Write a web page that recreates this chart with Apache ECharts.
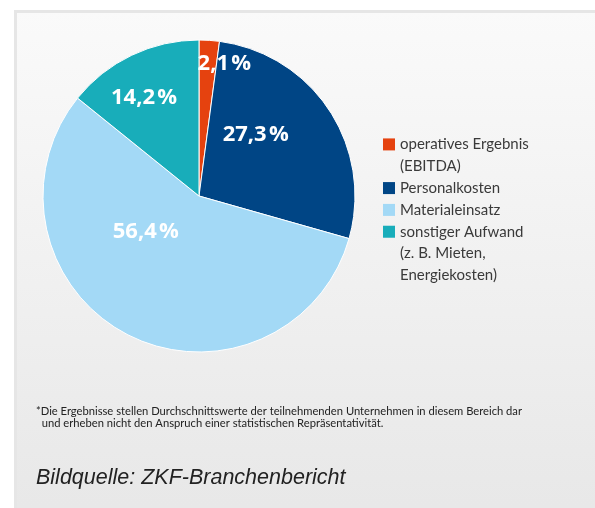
<!DOCTYPE html>
<html>
<head>
<meta charset="utf-8">
<script src="https://cdn.jsdelivr.net/npm/echarts@6/dist/echarts.min.js"></script>
<style>
html,body{margin:0;padding:0;background:#fff;}
#chart{width:595px;height:508px;}
</style>
</head>
<body>
<div id="chart"></div>
<script>
// ---- data ----
const categories = [
  'operatives Ergebnis\n(EBITDA)',
  'Personalkosten',
  'Materialeinsatz',
  'sonstiger Aufwand\n(z. B. Mieten,\nEnergiekosten)'
];
const shares = [2.1, 27.3, 56.4, 14.2];
const sliceColors = ['#e5420f', '#004585', '#a3d9f6', '#18adba'];
const footnote = '*Die Ergebnisse stellen Durchschnittswerte der teilnehmenden Unternehmen in diesem Bereich dar\n  und erheben nicht den Anspruch einer statistischen Repräsentativität.';
const sourceText = 'Bildquelle: ZKF-Branchenbericht';

// ---- layout / style (not data) ----
const LH = 21.83;
const labelShift = [[20, -51], [-11, -17], [-16, -36], [-20, -25]];

const chart = echarts.init(document.getElementById('chart'), null, {renderer: 'canvas'});

const pieData = categories.map((c, i) => ({
  name: c,
  value: shares[i],
  itemStyle: {color: sliceColors[i]}
}));

const rich = {
  t: {color: '#3a3a3a', fontSize: 15, lineHeight: LH, fontFamily: 'Lato, sans-serif', padding: [0, 0, 0, 5]},
  sp: {width: 12, height: 12, lineHeight: LH}
};
sliceColors.forEach((col, i) => {
  rich['sq' + i] = {width: 12, height: 12, lineHeight: LH, backgroundColor: col};
});

const option = {
  backgroundColor: '#ffffff',
  animation: false,
  graphic: [
    {
      type: 'rect', z: -10, silent: true,
      shape: {x: 15.5, y: 11.5, width: 620, height: 520},
      style: {
        fill: new echarts.graphic.LinearGradient(0, 0, 0, 1, [
          {offset: 0, color: '#fafafa'},
          {offset: 1, color: '#e7e7e7'}
        ]),
        stroke: '#e6e6e6', lineWidth: 3
      }
    },
    {
      type: 'text', left: 36, top: 406,
      style: {
        text: footnote, fill: '#222', fontSize: 11.2, lineHeight: 11.7,
        fontFamily: '"Liberation Sans Narrow", "Lato", sans-serif'
      }
    },
    {
      type: 'text', left: 36, top: 467,
      style: {
        text: sourceText, fill: '#222', fontSize: 21.5, fontStyle: 'italic',
        fontFamily: '"Liberation Sans", Arial, sans-serif'
      }
    }
  ],
  legend: {
    orient: 'vertical',
    left: 377, top: 133.5,
    padding: 0,
    itemGap: 0,
    itemWidth: 0.01, itemHeight: 12,
    icon: 'rect',
    itemStyle: {opacity: 0},
    selectedMode: false,
    data: categories,
    formatter: name => {
      const idx = categories.indexOf(name);
      return name.split('\n').map((line, j) =>
        (j === 0 ? '{sq' + idx + '|}' : '{sp|}') + '{t|' + line + '}'
      ).join('\n');
    },
    textStyle: {
      color: '#3a3a3a', fontSize: 15, lineHeight: LH,
      fontFamily: 'Lato, sans-serif',
      rich: rich
    }
  },
  series: [{
    type: 'pie',
    center: [199, 196],
    radius: 156,
    startAngle: 90,
    clockwise: true,
    avoidLabelOverlap: false,
    itemStyle: {borderColor: '#ffffff', borderWidth: 1},
    emphasis: {disabled: true},
    label: {
      show: true,
      position: 'inside',
      color: '#ffffff',
      fontSize: 22,
      fontWeight: 'bold',
      fontFamily: '"Open Sans", sans-serif',
      formatter: p => p.value.toFixed(1).replace('.', ',') + '\u200A%'
    },
    labelLine: {show: false},
    labelLayout: p => ({dx: labelShift[p.dataIndex][0], dy: labelShift[p.dataIndex][1]}),
    data: pieData
  }]
};
chart.setOption(option);
</script>
</body>
</html>
